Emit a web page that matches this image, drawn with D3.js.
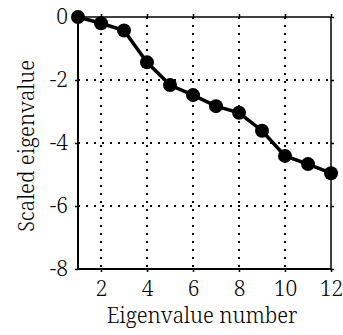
<!DOCTYPE html>
<html><head><meta charset="utf-8">
<script src="https://cdn.jsdelivr.net/npm/d3@7"></script>
<style>body{margin:0;background:#fff}svg{display:block}text{font-family:"Noto Serif",serif;fill:#000}</style>
</head><body>
<svg id="c" width="343" height="335"></svg>
<script>
const eigIndex = [1,2,3,4,5,6,7,8,9,10,11,12];
const scaledEig = [0,-0.2,-0.43,-1.44,-2.16,-2.48,-2.83,-3.04,-3.61,-4.41,-4.67,-4.96];
const xTicks = [2,4,6,8,10,12];
const yTicks = [0,-2,-4,-6,-8];
const xGrid = [2,4,6,8,10];
const yGrid = [-2,-4,-6];
const xLabel = "Eigenvalue number";
const yLabel = "Scaled eigenvalue";

const W=343,H=335, m={l:78,t:17,r:12,b:66};
const svg=d3.select("#c");
const x=d3.scaleLinear().domain([1,12]).range([m.l,W-m.r]);
const y=d3.scaleLinear().domain([0,-8]).range([m.t,H-m.b]);
const font='"Noto Serif",serif';

// grid
svg.append("g").selectAll("line").data(xGrid).join("line")
 .attr("x1",d=>x(d)).attr("x2",d=>x(d)).attr("y1",y(0)).attr("y2",y(-8))
 .attr("stroke","#000").attr("stroke-width",2).attr("stroke-dasharray","2,6");
svg.append("g").selectAll("line").data(yGrid).join("line")
 .attr("y1",d=>y(d)).attr("y2",d=>y(d)).attr("x1",x(1)).attr("x2",x(12))
 .attr("stroke","#000").attr("stroke-width",2).attr("stroke-dasharray","2,6");

// axes
const ax=(g)=>{g.select(".domain").remove(); g.attr("font-family",font).attr("font-size",21);
  g.selectAll("text").style("font-family",font).style("font-size","21px").style("font-weight","300").attr("fill","#000");};
svg.append("g").attr("transform",`translate(0,${y(-8)})`)
 .call(d3.axisBottom(x).tickValues(xTicks).tickSize(3).tickPadding(9).tickFormat(d3.format("d")))
 .call(ax);
svg.append("g").attr("transform",`translate(${x(1)},0)`)
 .call(d3.axisLeft(y).tickValues(yTicks).tickSize(3).tickPadding(7).tickFormat(d=>d<0?"-"+Math.abs(d):d))
 .call(ax);
svg.append("g").attr("transform",`translate(0,${y(0)})`)
 .call(d3.axisTop(x).tickValues(xTicks).tickSize(3).tickFormat(""))
 .call(s=>s.select(".domain").remove());
svg.append("g").attr("transform",`translate(${x(12)},0)`)
 .call(d3.axisRight(y).tickValues(yTicks).tickSize(3).tickFormat(""))
 .call(s=>s.select(".domain").remove());
svg.selectAll(".tick line").attr("stroke","#000").attr("stroke-width",1.5);

// frame
svg.append("line").attr("x1",x(1)).attr("x2",x(12)).attr("y1",y(0)).attr("y2",y(0)).attr("stroke","#000").attr("stroke-width",1.5);
svg.append("line").attr("x1",x(12)).attr("x2",x(12)).attr("y1",y(0)).attr("y2",y(-8)).attr("stroke","#000").attr("stroke-width",1.5);
svg.append("line").attr("x1",x(1)).attr("x2",x(1)).attr("y1",y(0)).attr("y2",y(-8)+1).attr("stroke","#000").attr("stroke-width",2);
svg.append("line").attr("x1",x(1)-1).attr("x2",x(12)).attr("y1",y(-8)).attr("y2",y(-8)).attr("stroke","#000").attr("stroke-width",2);

// data
const pts=eigIndex.map((d,i)=>[d,scaledEig[i]]);
svg.append("path").datum(pts).attr("fill","none").attr("stroke","#000").attr("stroke-width",3.5)
 .attr("d",d3.line().x(d=>x(d[0])).y(d=>y(d[1])));
svg.append("g").selectAll("circle").data(pts).join("circle")
 .attr("cx",d=>x(d[0])).attr("cy",d=>y(d[1])).attr("r",7).attr("fill","#000");

// labels
svg.append("text").attr("x",202).attr("y",323).attr("text-anchor","middle")
 .style("font-size","21px").style("font-weight","300").text(xLabel);
svg.append("text").attr("transform",`translate(34,146) rotate(-90)`).attr("text-anchor","middle")
 .style("font-size","21px").style("font-weight","300").text(yLabel);
</script>
</body></html>
